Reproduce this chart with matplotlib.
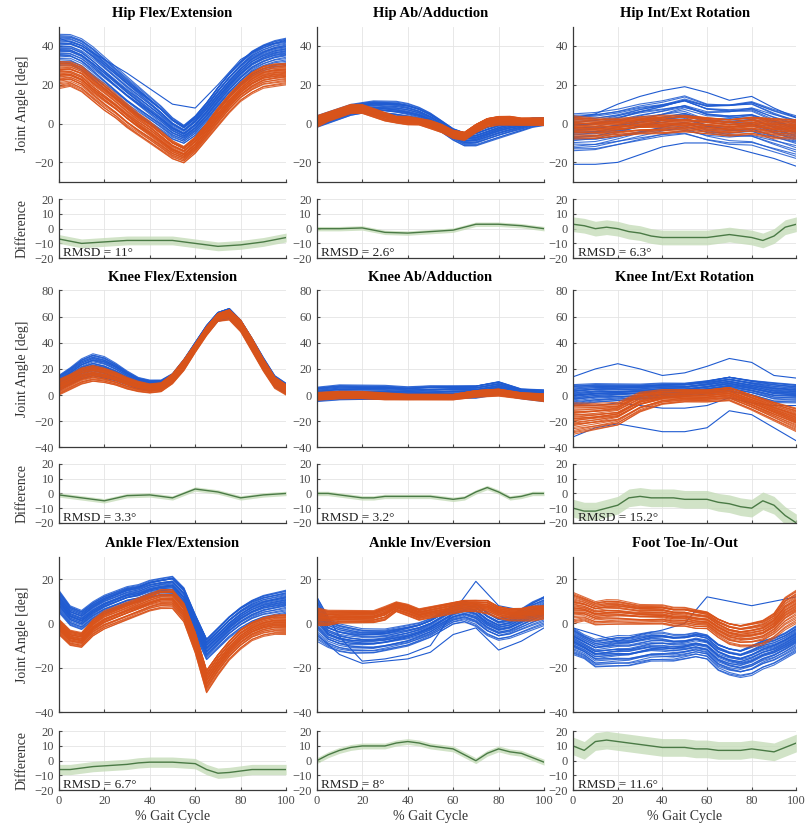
"""
Joint angle comparison figure: two measurement systems over the gait cycle,
with per-joint difference (orange - blue) and RMSD.
"""

import matplotlib
matplotlib.use("Agg")
import matplotlib.pyplot as plt
import numpy as np

plt.rcParams["font.family"] = ["Liberation Serif", "DejaVu Serif"]

BLUE = "#1f5bd1"
ORANGE = "#d9531a"
GREEN = "#4a7a45"
BAND = "#c6dcb9"

# per-subject position inside each group's envelope (start, end of cycle)
F_START = [0.00, 0.05, 0.12, 0.18, 0.22, 0.27, 0.31, 0.35, 0.38, 0.42, 0.45,
           0.48, 0.51, 0.54, 0.57, 0.60, 0.63, 0.66, 0.70, 0.73, 0.76, 0.80,
           0.84, 0.88, 0.92, 0.96, 1.00, 0.50, 0.33, 0.69, 0.08, 0.91]
F_END = [0.30, 0.10, 0.55, 0.00, 0.40, 0.75, 0.20, 0.62, 0.45, 0.90, 0.35,
         0.58, 0.15, 0.70, 0.50, 0.82, 0.25, 1.00, 0.65, 0.42, 0.95, 0.60,
         0.78, 0.52, 0.88, 0.68, 0.85, 0.47, 0.05, 0.97, 0.38, 0.72]

# ---- Hip Flex/Extension (0..100 % in 5 % steps)
HIP_FLEX_BLUE_LO = [30, 30, 27, 22, 17, 12, 7, 3, -1, -5, -9, -11, -7, -1, 6, 13, 19, 24, 27, 29, 30]
HIP_FLEX_BLUE_HI = [46, 46, 44, 40, 35, 30, 25, 20, 15, 10, 4, 0, 5, 12, 20, 27, 33, 38, 41, 43, 44]
HIP_FLEX_ORANGE_LO = [18, 19, 16, 11, 6, 2, -3, -7, -11, -15, -19, -21, -16, -9, -2, 5, 11, 15, 18, 19, 20]
HIP_FLEX_ORANGE_HI = [32, 32, 30, 25, 21, 16, 11, 6, 2, -3, -8, -11, -6, 1, 9, 16, 22, 27, 30, 31, 31]
HIP_FLEX_EXTRA = [[44, 40, 33, 26, 18, 10, 8, 20, 33, 40, 43]]
HIP_FLEX_DIFF = [-7, -10, -9, -8, -8, -8, -10, -12, -11, -9, -6]

# ---- Hip Ab/Adduction
HIP_AB_BLUE_LO = [-2, 0, 2, 4, 5, 4, 3, 2, 1, 0, -2, -5, -9, -12, -12, -10, -8, -6, -4, -2, -1]
HIP_AB_BLUE_HI = [4, 6, 8, 10, 11, 12, 12, 12, 11, 9, 6, 2, -2, -4, -3, -1, 1, 2, 2, 3, 3]
HIP_AB_ORANGE_LO = [-2, 1, 3, 5, 5, 3, 1, 0, -1, -1, -3, -5, -8, -9, -5, -2, -1, -1, -1, -1, -1]
HIP_AB_ORANGE_HI = [4, 6, 8, 10, 10, 8, 6, 4, 4, 3, 2, 0, -3, -4, 0, 3, 4, 4, 3, 3, 3]
HIP_AB_EXTRA = []
HIP_AB_DIFF = [0, 0, 0.5, -2.5, -3, -2, -1, 3, 3, 2, 0]

# ---- Hip Int/Ext Rotation (10 % steps)
HIP_ROT_BLUE_LO = [-14, -14, -12, -10, -8, -7, -10, -12, -12, -15, -18]
HIP_ROT_BLUE_HI = [5, 6, 8, 11, 13, 16, 12, 12, 13, 8, 4]
HIP_ROT_ORANGE_LO = [-8, -8, -7, -6, -6, -5, -6, -7, -6, -8, -8]
HIP_ROT_ORANGE_HI = [4, 3, 3, 4, 5, 5, 4, 3, 4, 3, 2]
HIP_ROT_EXTRA = [[-21, -21, -20, -16, -12, -10, -10, -12, -15, -18, -22],
                 [3, 5, 10, 14, 17, 19, 16, 12, 14, 8, 3]]
HIP_ROT_DIFF = [3, 2, 0, 1, 0, -2, -3, -5, -6, -6, -6, -6, -6, -5, -4, -5, -6, -8, -5, 1, 3]

# ---- Knee Flex/Extension
KNEE_FLEX_BLUE_LO = [3, 8, 12, 14, 12, 10, 7, 4, 3, 4, 9, 19, 33, 46, 56, 58, 49, 34, 19, 6, 1]
KNEE_FLEX_BLUE_HI = [15, 21, 28, 32, 30, 25, 19, 14, 12, 12, 17, 28, 41, 54, 64, 67, 58, 44, 29, 15, 9]
KNEE_FLEX_ORANGE_LO = [0, 4, 8, 10, 9, 7, 4, 2, 1, 2, 8, 18, 32, 45, 56, 57, 48, 33, 18, 5, 0]
KNEE_FLEX_ORANGE_HI = [12, 16, 21, 23, 21, 18, 14, 11, 9, 10, 17, 28, 40, 53, 63, 66, 58, 44, 28, 14, 8]
KNEE_FLEX_EXTRA = []
KNEE_FLEX_DIFF = [-1, -3, -5, -1.5, -1, -3, 3, 1, -3, -1, 0]

# ---- Knee Ab/Adduction (10 % steps)
KNEE_AB_BLUE_LO = [-5, -4, -4, -4, -4, -4, -3, -3, 0, -3, -5]
KNEE_AB_BLUE_HI = [6, 8, 8, 8, 7, 8, 8, 8, 11, 5, 4]
KNEE_AB_ORANGE_LO = [-4, -3, -3, -4, -4, -4, -4, -2, -1, -3, -5]
KNEE_AB_ORANGE_HI = [2, 3, 3, 2, 1, 1, 1, 4, 5, 2, 1]
KNEE_AB_EXTRA = []
KNEE_AB_DIFF = [0, 0, -1, -2, -3, -3, -2, -2, -2, -2, -2, -3, -4, -3, 1, 4, 1, -3, -2, 0, 0]

# ---- Knee Int/Ext Rotation (10 % steps)
KNEE_ROT_BLUE_LO = [-8, -6, -5, -4, -3, -2, 0, 2, -1, -6, -6]
KNEE_ROT_BLUE_HI = [8, 9, 9, 9, 10, 10, 12, 15, 12, 10, 8]
KNEE_ROT_ORANGE_LO = [-30, -27, -24, -14, -8, -6, -6, -5, -12, -20, -28]
KNEE_ROT_ORANGE_HI = [-6, -6, -5, 3, 5, 5, 5, 7, 1, -5, -10]
KNEE_ROT_EXTRA = [[14, 20, 24, 20, 15, 17, 22, 28, 25, 15, 13],
                  [-32, -25, -22, -25, -28, -28, -25, -12, -15, -25, -35],
                  [-8, -8, -6, -8, -10, -10, -8, -2, -6, -8, -8]]
KNEE_ROT_DIFF = [-10, -12, -12, -10, -8, -3, -2, -3, -3, -3, -4, -4, -4, -6, -7, -9, -10, -5, -8, -15, -20]

# ---- Ankle Flex/Extension
ANKLE_FLEX_BLUE_LO = [5, -1, -3, 1, 4, 6, 8, 9, 11, 12, 12, 6, -6, -17, -12, -7, -3, 0, 2, 3, 4]
ANKLE_FLEX_BLUE_HI = [15, 8, 6, 10, 13, 15, 17, 18, 20, 21, 22, 17, 5, -6, -1, 4, 8, 11, 13, 14, 15]
ANKLE_FLEX_ORANGE_LO = [-5, -10, -11, -6, -3, -1, 1, 3, 5, 6, 6, 0, -14, -32, -24, -17, -12, -8, -6, -5, -5]
ANKLE_FLEX_ORANGE_HI = [2, -3, -4, 2, 6, 8, 10, 12, 14, 16, 16, 10, -3, -20, -13, -7, -2, 1, 3, 4, 4]
ANKLE_FLEX_EXTRA = []
ANKLE_FLEX_DIFF = [-6, -6, -5, -4, -3.5, -3, -2.5, -1.5, -1, -1, -1, -1.5, -2, -6, -8.5, -8, -7, -6, -6, -6, -6]

# ---- Ankle Inv/Eversion
ANKLE_INV_BLUE_LO = [-8, -11, -13, -14, -14, -14, -13, -12, -11, -9, -7, -4, -1, 0, -2, -6, -8, -7, -5, -3, -1]
ANKLE_INV_BLUE_HI = [12, 2, 0, -1, -2, -2, -2, -1, 0, 1, 3, 6, 9, 11, 10, 6, 3, 4, 7, 10, 12]
ANKLE_INV_ORANGE_LO = [-1, -1, 0, 0, 0, 0, 1, 5, 3, 1, 2, 3, 4, 5, 5, 4, 2, 1, 1, 1, 2]
ANKLE_INV_ORANGE_HI = [7, 6, 6, 6, 6, 6, 8, 10, 9, 7, 8, 9, 10, 11, 11, 11, 8, 7, 7, 8, 8]
ANKLE_INV_EXTRA = [[12, -6, -17, -16, -14, -10, 5, 19, 8, 6, 12],
                   [-5, -14, -18, -17, -16, -13, -5, -2, -12, -8, -2]]
ANKLE_INV_DIFF = [0, 4, 7, 9, 10, 10, 10, 12, 13, 12, 10, 9, 8, 4, 0, 5, 8, 6, 5, 2, -1]

# ---- Foot Toe-In/-Out
FOOT_BLUE_LO = [-14, -16, -20, -20, -20, -20, -19, -18, -18, -18, -17, -16, -17, -22, -24, -25, -24, -21, -19, -16, -13]
FOOT_BLUE_HI = [-2, -5, -7, -6, -5, -5, -4, -3, -3, -4, -4, -3, -4, -8, -10, -11, -9, -7, -6, -4, -1]
FOOT_ORANGE_LO = [0, 1, -1, -1, -1, -1, -1, -1, -1, -2, -2, -3, -3, -7, -10, -11, -11, -10, -7, -3, 0]
FOOT_ORANGE_HI = [14, 12, 10, 11, 11, 10, 9, 9, 9, 8, 8, 7, 6, 3, 1, 0, 1, 2, 5, 12, 15]
FOOT_EXTRA = [[-2, -5, -8, -5, -3, 0, 12, 10, 8, 10, 12]]
FOOT_DIFF = [10, 7, 13, 14, 13, 12, 11, 10, 9, 9, 9, 8, 8, 7, 7, 7, 8, 7, 6, 9, 12]

TITLES = ["Hip Flex/Extension", "Hip Ab/Adduction", "Hip Int/Ext Rotation",
          "Knee Flex/Extension", "Knee Ab/Adduction", "Knee Int/Ext Rotation",
          "Ankle Flex/Extension", "Ankle Inv/Eversion", "Foot Toe-In/-Out"]
RMSD = ["11°", "2.6°", "6.3°", "3.3°", "3.2°", "15.2°", "6.7°", "8°", "11.6°"]
BAND_HALF = [3, 1.5, 5, 1.5, 1.5, 6, 3.5, 2, 6]

ROW_YLIM = [(-30, 50), (-40, 80), (-40, 30)]
ROW_YTICKS = [[-20, 0, 20, 40], [-40, -20, 0, 20, 40, 60, 80], [-40, -20, 0, 20]]

PANELS = [
    (HIP_FLEX_BLUE_LO, HIP_FLEX_BLUE_HI, HIP_FLEX_ORANGE_LO, HIP_FLEX_ORANGE_HI, HIP_FLEX_EXTRA, HIP_FLEX_DIFF),
    (HIP_AB_BLUE_LO, HIP_AB_BLUE_HI, HIP_AB_ORANGE_LO, HIP_AB_ORANGE_HI, HIP_AB_EXTRA, HIP_AB_DIFF),
    (HIP_ROT_BLUE_LO, HIP_ROT_BLUE_HI, HIP_ROT_ORANGE_LO, HIP_ROT_ORANGE_HI, HIP_ROT_EXTRA, HIP_ROT_DIFF),
    (KNEE_FLEX_BLUE_LO, KNEE_FLEX_BLUE_HI, KNEE_FLEX_ORANGE_LO, KNEE_FLEX_ORANGE_HI, KNEE_FLEX_EXTRA, KNEE_FLEX_DIFF),
    (KNEE_AB_BLUE_LO, KNEE_AB_BLUE_HI, KNEE_AB_ORANGE_LO, KNEE_AB_ORANGE_HI, KNEE_AB_EXTRA, KNEE_AB_DIFF),
    (KNEE_ROT_BLUE_LO, KNEE_ROT_BLUE_HI, KNEE_ROT_ORANGE_LO, KNEE_ROT_ORANGE_HI, KNEE_ROT_EXTRA, KNEE_ROT_DIFF),
    (ANKLE_FLEX_BLUE_LO, ANKLE_FLEX_BLUE_HI, ANKLE_FLEX_ORANGE_LO, ANKLE_FLEX_ORANGE_HI, ANKLE_FLEX_EXTRA, ANKLE_FLEX_DIFF),
    (ANKLE_INV_BLUE_LO, ANKLE_INV_BLUE_HI, ANKLE_INV_ORANGE_LO, ANKLE_INV_ORANGE_HI, ANKLE_INV_EXTRA, ANKLE_INV_DIFF),
    (FOOT_BLUE_LO, FOOT_BLUE_HI, FOOT_ORANGE_LO, FOOT_ORANGE_HI, FOOT_EXTRA, FOOT_DIFF),
]

# axes layout in figure fractions
COL_LEFT = [0.073, 0.393, 0.711]
COL_WIDTH = [0.282, 0.282, 0.277]
MAIN_BOTTOM = [0.781, 0.461, 0.142]
MAIN_HEIGHT = [0.187, 0.189, 0.187]
DIFF_BOTTOM = [0.689, 0.370, 0.048]
DIFF_HEIGHT = 0.071


def style_axes(ax, ylim, yticks, xlabels):
    ax.set_xlim(0, 100)
    ax.set_ylim(*ylim)
    ax.set_xticks(range(0, 101, 20))
    ax.set_yticks(yticks)
    ax.grid(color="#e4e4e4", linewidth=0.6)
    ax.set_axisbelow(True)
    for side in ("top", "right"):
        ax.spines[side].set_visible(False)
    for side in ("left", "bottom"):
        ax.spines[side].set_color("#3a3a3a")
        ax.spines[side].set_linewidth(0.9)
    ax.tick_params(direction="in", length=2, labelsize=9, colors="#4a4a4a")
    if not xlabels:
        ax.tick_params(labelbottom=False)


def draw_group(ax, lo, hi, color):
    lo = np.asarray(lo, dtype=float)
    hi = np.asarray(hi, dtype=float)
    x = np.linspace(0, 100, len(lo))
    t = x / 100.0
    for fs, fe in zip(F_START, F_END):
        f = fs + (fe - fs) * t
        ax.plot(x, lo + f * (hi - lo), color=color, linewidth=0.8, alpha=0.85)


def main():
    fig = plt.figure(figsize=(8.06, 8.30), dpi=100)

    for i, (b_lo, b_hi, o_lo, o_hi, extra, diff) in enumerate(PANELS):
        row, col = divmod(i, 3)
        ax = fig.add_axes([COL_LEFT[col], MAIN_BOTTOM[row], COL_WIDTH[col], MAIN_HEIGHT[row]])
        draw_group(ax, b_lo, b_hi, BLUE)
        for curve in extra:
            ax.plot(np.linspace(0, 100, len(curve)), curve, color=BLUE, linewidth=0.8)
        draw_group(ax, o_lo, o_hi, ORANGE)
        style_axes(ax, ROW_YLIM[row], ROW_YTICKS[row], False)
        ax.set_title(TITLES[i], fontsize=10.5, fontweight="bold", pad=7)
        if col == 0:
            ax.set_ylabel("Joint Angle [deg]", fontsize=10, color="#333333", labelpad=4)

        dax = fig.add_axes([COL_LEFT[col], DIFF_BOTTOM[row], COL_WIDTH[col], DIFF_HEIGHT])
        d = np.asarray(diff, dtype=float)
        xd = np.linspace(0, 100, len(d))
        dax.fill_between(xd, d - BAND_HALF[i], d + BAND_HALF[i], color=BAND,
                         alpha=0.8, linewidth=0)
        dax.plot(xd, d, color=GREEN, linewidth=1.0)
        style_axes(dax, (-20, 20), [-20, -10, 0, 10, 20], row == 2)
        dax.text(2, -18.5, "RMSD = " + RMSD[i], fontsize=9.5, color="#222222")
        if col == 0:
            dax.set_ylabel("Difference", fontsize=10, color="#333333", labelpad=4)
        if row == 2:
            dax.set_xlabel("% Gait Cycle", fontsize=10, color="#333333", labelpad=2)

    fig.savefig("out.png", dpi=100)
    plt.close(fig)


if __name__ == "__main__":
    main()
